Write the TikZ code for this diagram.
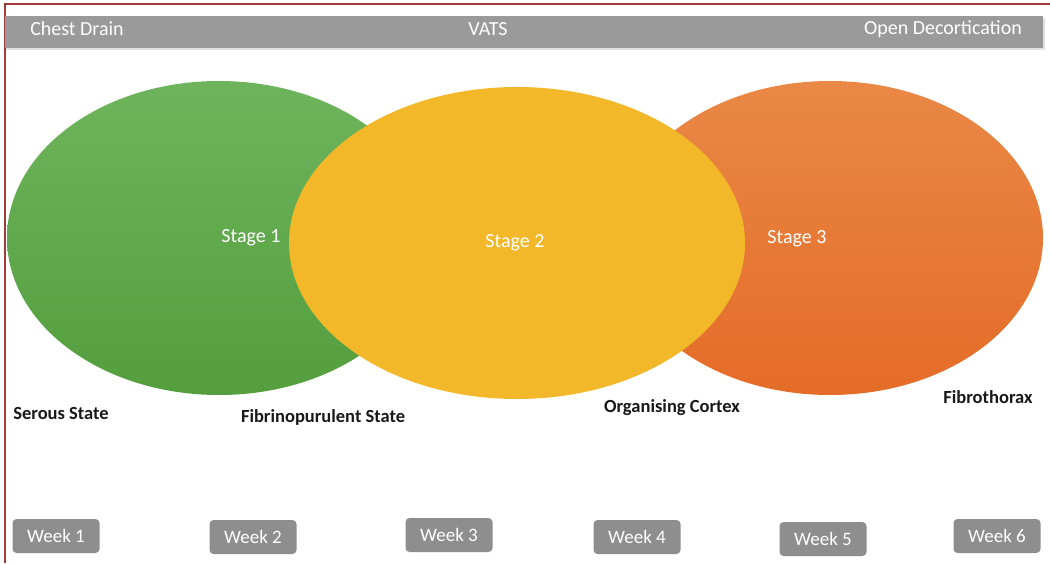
\documentclass[tikz,border=0pt]{standalone}
\usepackage{fontspec}
\setmainfont{Carlito}
\usepackage{xcolor}
\usepackage{tikz}
\usetikzlibrary{shapes.geometric,positioning}

\definecolor{barGray}{HTML}{9A9A9A}
\definecolor{boxGray}{HTML}{8E8E8E}
\definecolor{frameRed}{HTML}{A23A3A}
\definecolor{greenTop}{RGB}{110,180,92}
\definecolor{greenBot}{RGB}{84,158,62}
\definecolor{orangeTop}{RGB}{234,136,70}
\definecolor{orangeBot}{RGB}{228,108,40}
\definecolor{yellowFill}{RGB}{242,184,42}

\tikzset{
  blob/.style={ellipse,inner sep=0pt,draw=none},
  stagetxt/.style={text=white,font=\fontsize{20}{24}\selectfont},
  statetxt/.style={text=black!90,font=\bfseries\fontsize{18.5}{22}\selectfont},
  weekbox/.style={rounded corners=4pt,fill=boxGray,text=white,minimum width=87pt,
    minimum height=34pt,inner sep=0pt,font=\fontsize{19}{22}\selectfont},
  bartxt/.style={text=white,font=\fontsize{20}{24}\selectfont}
}

\begin{document}
\begin{tikzpicture}[x=1pt,y=-1pt]
  \useasboundingbox (0,0) rectangle (1050,563);
  \fill[white] (0,0) rectangle (1050,563);
  % 外框 上边和左边
  \draw[frameRed,line width=1.2pt] (5,563) -- (5,4) -- (1050,4);
  % 顶部灰色条
  \fill[black!12] (6,18) rectangle (1045,50);
  \fill[barGray] (5,16) rectangle (1043,48);
  \node[bartxt] (drain) at (77,29) {Chest Drain};
  \node[bartxt] (vats) at (488,29) {VATS};
  \node[bartxt] (decort) at (943,29) {Open Decortication};
  % 三个椭圆
  \node[blob,minimum width=424pt,minimum height=314pt,top color=greenTop,bottom color=greenBot] (green) at (219,238) {};
  \node[blob,minimum width=426pt,minimum height=314pt,top color=orangeTop,bottom color=orangeBot] (orange) at (830,238) {};
  \node[blob,minimum width=456pt,minimum height=312pt,fill=yellowFill] (yellow) at (517,243) {};
  \node[stagetxt] (s1) at (251,238) {Stage 1};
  \node[stagetxt] (s2) at (515,243) {Stage 2};
  \node[stagetxt] (s3) at (797,239) {Stage 3};
  % 各阶段名称
  \node[statetxt] (serous) at (61,413) {Serous State};
  \node[statetxt] (fibrino) at (323,417) {Fibrinopurulent State};
  \node[statetxt] (cortex) at (672,408) {Organising Cortex};
  \node[statetxt] (fibro) at (988,397) {Fibrothorax};
  % 周数
  \foreach \x/\y/\n in {56/536/1,253/537/2,449/535/3,637/537/4,823/539/5,997/536/6}
    \node[weekbox] (week\n) at (\x,\y) {Week \n};
\end{tikzpicture}
\end{document}
